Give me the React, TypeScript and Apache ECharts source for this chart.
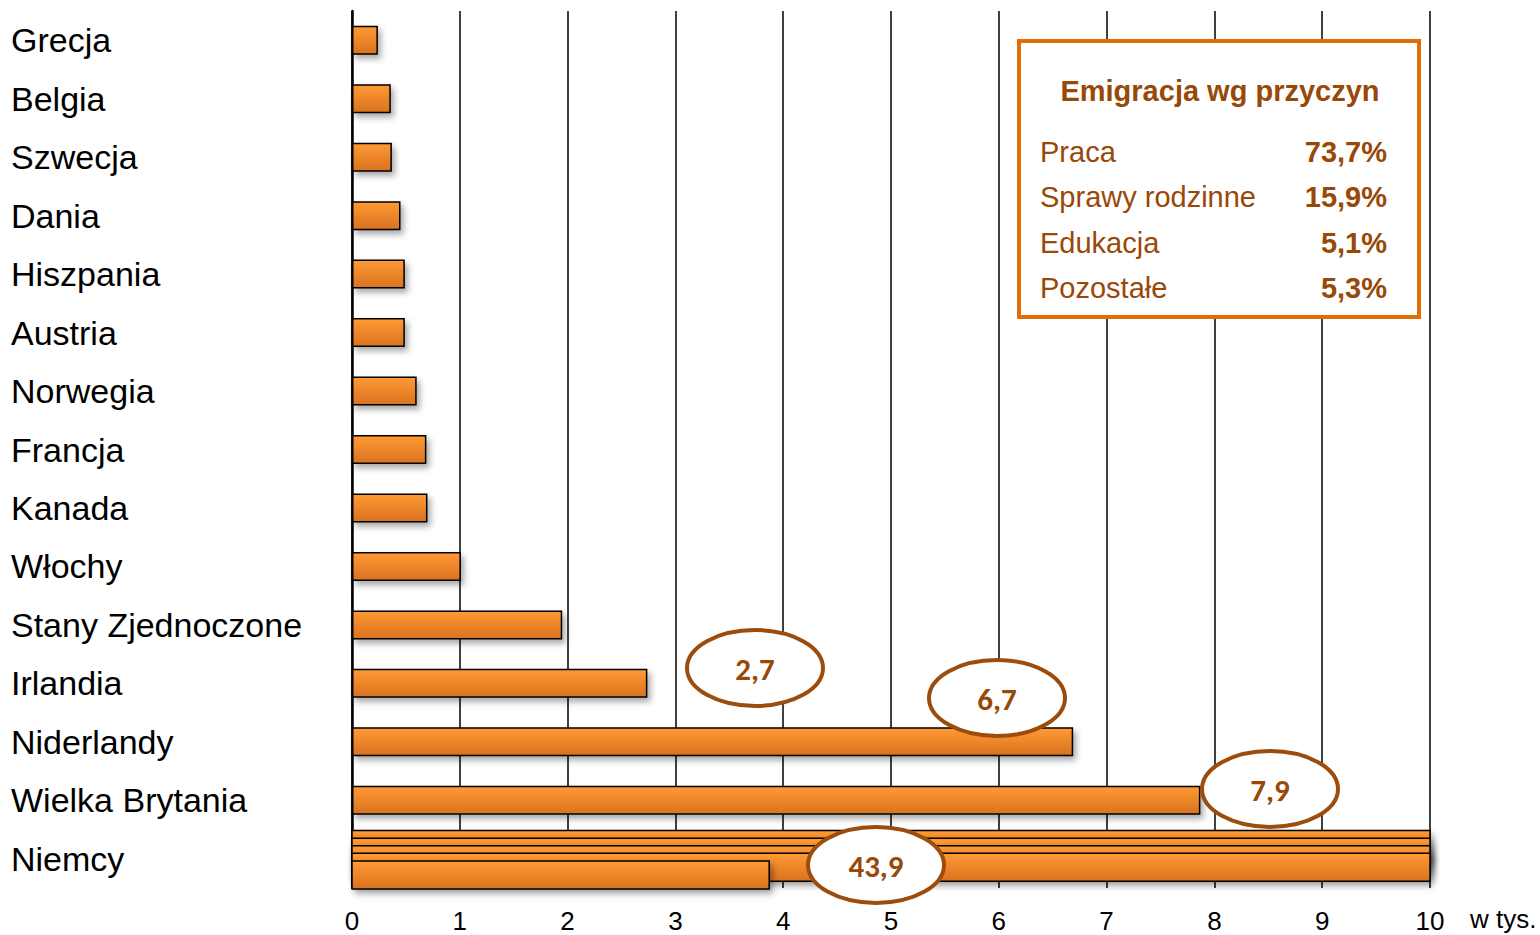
import React, { useEffect, useRef } from "react";
import * as echarts from "echarts";

const categories = [
  "Grecja",
  "Belgia",
  "Szwecja",
  "Dania",
  "Hiszpania",
  "Austria",
  "Norwegia",
  "Francja",
  "Kanada",
  "Włochy",
  "Stany Zjednoczone",
  "Irlandia",
  "Niderlandy",
  "Wielka Brytania",
  "Niemcy",
];
// thousands of emigrants
const values = [0.24, 0.36, 0.37, 0.45, 0.49, 0.49, 0.6, 0.69, 0.7, 1.01, 1.95, 2.74, 6.69, 7.87, 43.87];
const xTicks = [0, 1, 2, 3, 4, 5, 6, 7, 8, 9, 10];
const axisMax = 10;

const reasonLabels = ["Praca", "Sprawy rodzinne", "Edukacja", "Pozostałe"];
const reasonShares = ["73,7%", "15,9%", "5,1%", "5,3%"];
const legendTitle = "Emigracja wg przyczyn";

const fmt = (v: number) => v.toFixed(1).replace(".", ",");

const barFill = () =>
  new echarts.graphic.LinearGradient(0, 0, 0, 1, [
    { offset: 0, color: "#FF9A35" },
    { offset: 1, color: "#D9721F" },
  ]);

export default function App() {
  const ref = useRef<HTMLDivElement>(null);

  useEffect(() => {
    if (!ref.current) return;
    const chart = echarts.init(ref.current, undefined, { renderer: "svg" });

    const overflowIdx = values.findIndex((v) => v > axisMax);
    const mainData = values.map((v) => (v > axisMax ? "-" : v));
    const brokenData: number[][] = [];
    if (overflowIdx >= 0) {
      const v = values[overflowIdx];
      const full = Math.floor(v / axisMax);
      for (let i = 0; i < full; i++) brokenData.push([axisMax, overflowIdx, i]);
      brokenData.push([v - full * axisMax, overflowIdx, full]);
    }
    const nSlots = brokenData.length;

    const font = "'Liberation Sans', Arial, sans-serif";
    const brown = "#984807";
    const ellStroke = "#9C4C0C";

    const ellipses = [
      { cx: 755, cy: 668, v: values[11] },
      { cx: 997, cy: 698, v: values[12] },
      { cx: 1270, cy: 789, v: values[13] },
      { cx: 876, cy: 865, v: values[14] },
    ];

    const graphics: any[] = [];
    ellipses.forEach((e) => {
      graphics.push({
        type: "ellipse",
        z: 100,
        shape: { cx: e.cx, cy: e.cy, rx: 68, ry: 38 },
        style: { fill: "#fff", stroke: ellStroke, lineWidth: 4 },
      });
      graphics.push({
        type: "text",
        z: 101,
        x: e.cx,
        y: e.cy + 1,
        style: {
          text: fmt(e.v),
          align: "center",
          verticalAlign: "middle",
          fontFamily: "Carlito, Lato, sans-serif",
          fontWeight: "bold",
          fontSize: 31,
          fill: brown,
        },
      });
    });

    graphics.push({
      type: "rect",
      z: 100,
      shape: { x: 1019, y: 41, width: 400, height: 276 },
      style: { fill: "#fff", stroke: "#E36C0A", lineWidth: 4 },
    });
    graphics.push({
      type: "text",
      z: 101,
      x: 1220,
      y: 91,
      style: {
        text: legendTitle,
        align: "center",
        verticalAlign: "middle",
        fontFamily: font,
        fontWeight: "bold",
        fontSize: 29,
        fill: brown,
      },
    });
    const rowY = [152, 197, 243, 288];
    reasonLabels.forEach((lab, i) => {
      graphics.push({
        type: "text",
        z: 101,
        x: 1040,
        y: rowY[i],
        style: {
          text: lab,
          align: "left",
          verticalAlign: "middle",
          fontFamily: font,
          fontSize: 29,
          fill: brown,
        },
      });
      graphics.push({
        type: "text",
        z: 101,
        x: 1387,
        y: rowY[i],
        style: {
          text: reasonShares[i],
          align: "right",
          verticalAlign: "middle",
          fontFamily: font,
          fontWeight: "bold",
          fontSize: 29,
          fill: brown,
        },
      });
    });

    const shadow = {
      shadowColor: "rgba(0,0,0,0.35)",
      shadowBlur: 6,
      shadowOffsetX: 3,
      shadowOffsetY: 4,
    };

    chart.setOption({
      animation: false,
      grid: { left: 352, right: 110, top: 11, bottom: 47, containLabel: false },
      xAxis: {
        type: "value",
        min: xTicks[0],
        max: xTicks[xTicks.length - 1],
        interval: 1,
        name: "w tys.",
        nameLocation: "end",
        nameGap: 40,
        nameTextStyle: {
          fontFamily: font,
          fontSize: 26,
          color: "#000",
          align: "left",
          verticalAlign: "top",
          padding: [18, 0, 0, 0],
        },
        axisLine: { show: false },
        axisTick: { show: false },
        axisLabel: { fontFamily: font, fontSize: 26, color: "#000", margin: 20 },
        splitLine: { show: true, lineStyle: { color: "#000", width: 1.5 } },
      },
      yAxis: {
        type: "category",
        inverse: true,
        data: categories,
        axisLine: { show: true, lineStyle: { color: "#000", width: 2.5 } },
        axisTick: { show: false },
        axisLabel: {
          align: "left",
          margin: 341,
          fontFamily: font,
          fontSize: 34,
          color: "#000",
          padding: [3, 0, 0, 0],
        },
        splitLine: { show: false },
      },
      series: [
        {
          type: "bar",
          data: mainData,
          barWidth: 29,
          itemStyle: {
            color: barFill(),
            borderColor: "#000",
            borderWidth: 1.5,
            ...shadow,
          },
          z: 3,
        },
        {
          type: "custom",
          z: 4,
          encode: { x: 0, y: 1 },
          data: brokenData,
          renderItem: (params: any, api: any) => {
            const v = api.value(0);
            const cat = api.value(1);
            const slot = api.value(2);
            const p0 = api.coord([0, cat]);
            const p1 = api.coord([v, cat]);
            const band = api.size([0, 1])[1];
            const h = 28;
            const cy = p0[1] + (slot - (nSlots - 1) / 2) * band * 0.13 + 1;
            return {
              type: "rect",
              shape: { x: p0[0], y: cy - h / 2, width: p1[0] - p0[0], height: h },
              style: {
                fill: barFill(),
                stroke: "#000",
                lineWidth: 1.5,
                ...shadow,
              },
            };
          },
        },
      ],
      graphic: graphics,
    });

    return () => chart.dispose();
  }, []);

  return (
    <div
      ref={ref}
      style={{ position: "fixed", left: 0, top: 0, width: 1540, height: 935, background: "#fff" }}
    />
  );
}
